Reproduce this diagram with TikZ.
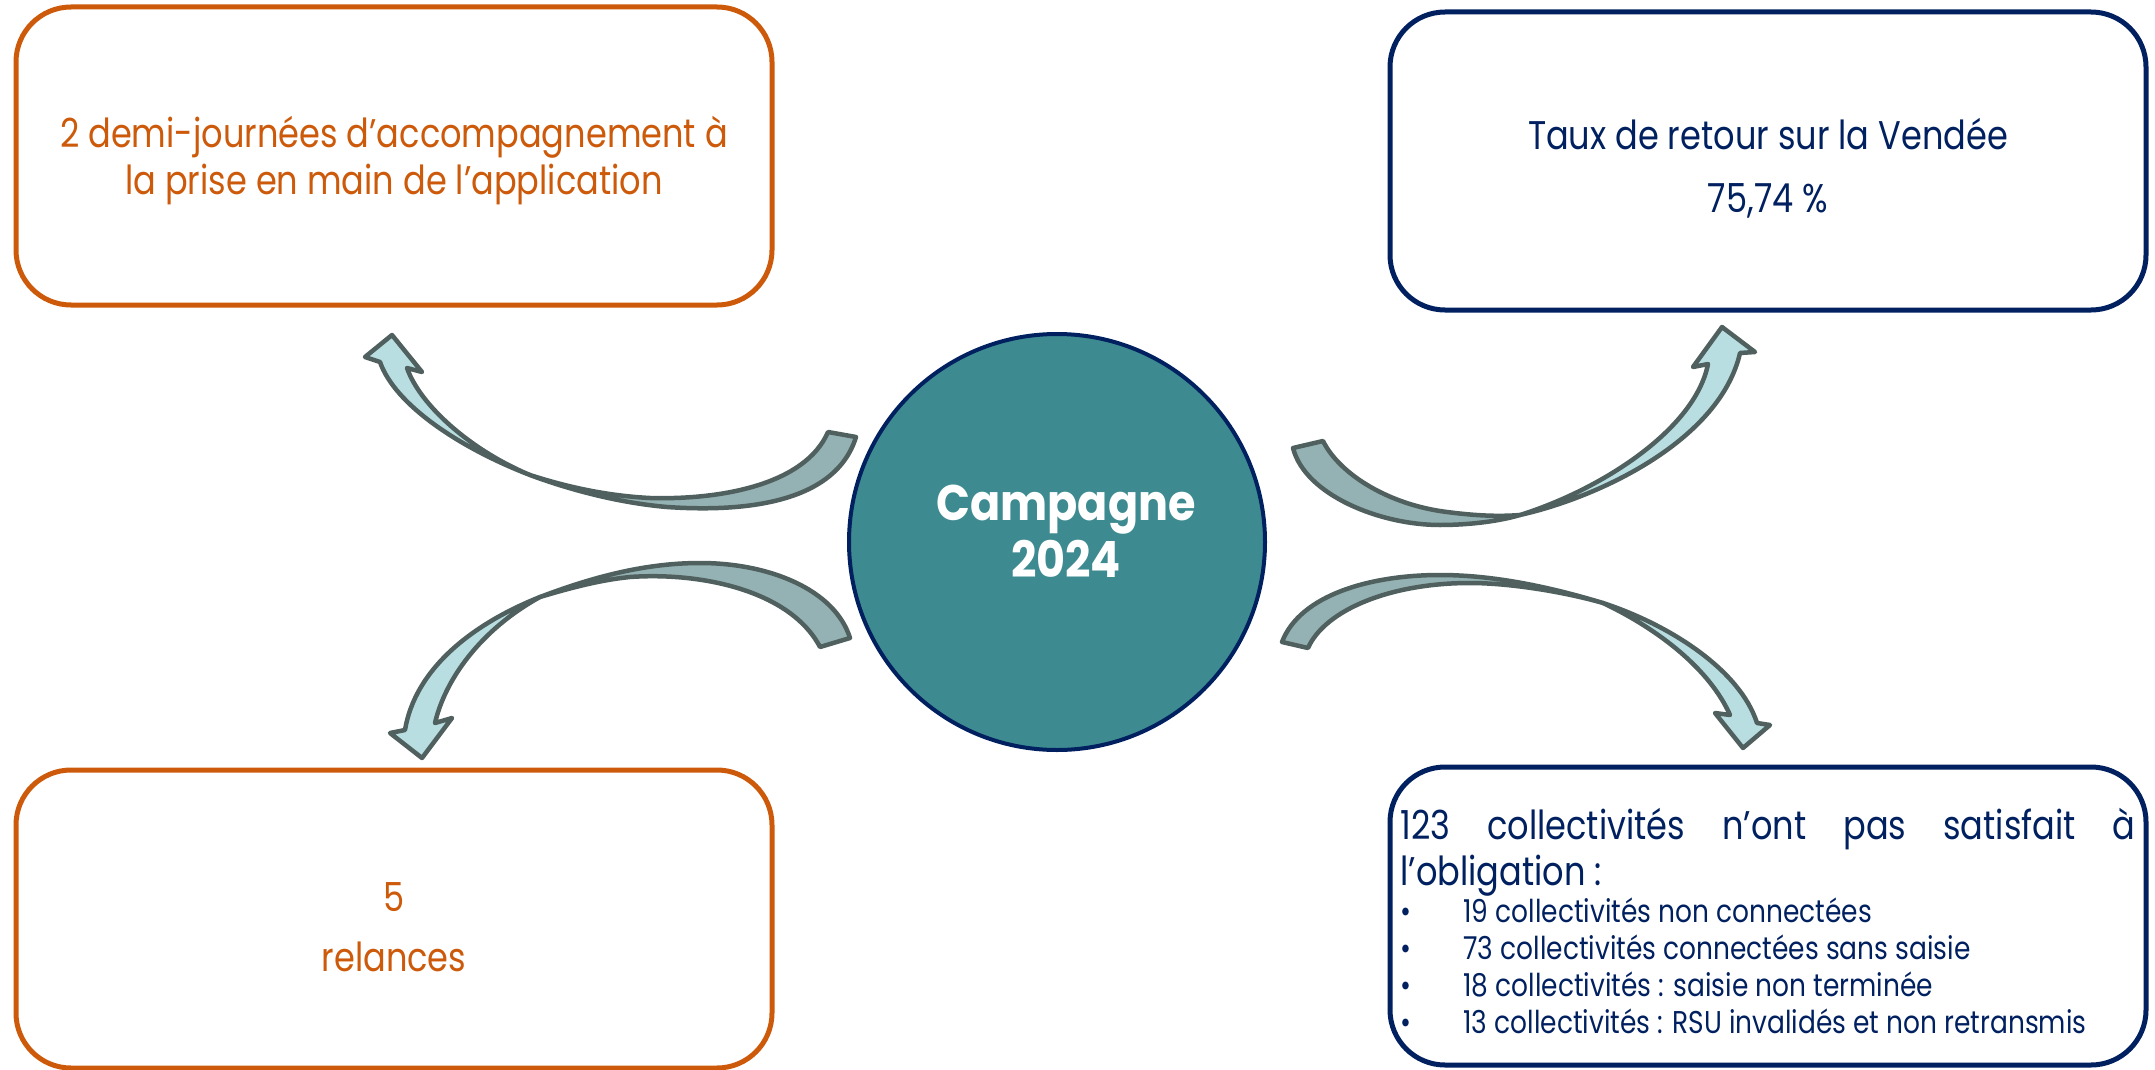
\documentclass[tikz,border=0pt]{standalone}
\usepackage{fontspec}
\setmainfont{Poppins}[FakeStretch=0.84]
\newfontfamily\hubfont{Poppins}[FakeStretch=0.89, UprightFont={* Bold}]
\definecolor{orangec}{HTML}{CC5A0A}
\definecolor{navyc}{HTML}{002060}
\definecolor{tealc}{HTML}{3D8B91}
\definecolor{arrowback}{HTML}{94B2B3}
\definecolor{arrowfront}{HTML}{B8DEE2}
\definecolor{arrowedge}{HTML}{4F605F}
\tikzset{
  infobox/.style={draw, line width=5pt, rounded corners=55pt,
    minimum width=756pt, minimum height=298pt, inner sep=0pt},
  orangebox/.style={infobox, draw=orangec},
  navybox/.style={infobox, draw=navyc},
  bigtext/.style={align=center, font=\fontsize{40}{47}\selectfont},
  hub/.style={circle, draw=navyc, fill=tealc, line width=4pt, minimum size=416pt,
    inner sep=0pt},
  hublabel/.style={text=white, align=center, font=\hubfont\fontsize{50}{57}\selectfont},
  ribbon/.style={draw=arrowedge, line width=4.5pt, line join=round},
  backpart/.style={ribbon, fill=arrowback},
  frontpart/.style={ribbon, fill=arrowfront}
}
\newcommand{\bulletline}[1]{\makebox[63pt][l]{•}#1\par}
\begin{document}
\begin{tikzpicture}[x=1pt, y=-1pt]
\useasboundingbox (0,0) rectangle (2155,1070);

% information boxes
\node[orangebox] (tl) at (394,156) {};
\node[navybox] (tr) at (1768,161) {};
\node[orangebox] (bl) at (394,919) {};
\node[navybox] (br) at (1768,916) {};

% box contents
\node[bigtext, text=orangec] (tltext) at (394,161)
  {2 demi-journées d’accompagnement à\\la prise en main de l’application};
\node[bigtext, text=navyc] (trtext) at (1768,168)
  {Taux de retour sur la Vendée\\[16pt]75,74 \%};
\node[bigtext, text=orangec] (bltext) at (394,927) {5\\[13pt]relances};
\node[text=navyc, text width=735pt, align=justify, inner sep=0pt] (brtext) at (1768,921)
  {\fontsize{40}{46}\selectfont 123 collectivités n’ont pas satisfait à\linebreak l’obligation :\par
   \fontsize{31.5}{37}\selectfont
   \bulletline{19 collectivités non connectées}
   \bulletline{73 collectivités connectées sans saisie}
   \bulletline{18 collectivités : saisie non terminée}
   \bulletline{13 collectivités : RSU invalidés et non retransmis}};

% central hub
\node[hub] (hubc) at (1057,542) {};
\node[hublabel] (hubtext) at (1066,531) {Campagne\\2024};

% curved arrow towards the upper left box
\draw[backpart] (856,437) .. controls (835,505) and (740,512) .. (667,507)
  .. controls (620,503) and (570,490) .. (530,475)
  .. controls (570,488) and (610,496) .. (650,498)
  .. controls (720,500) and (805,485) .. (828,432) -- cycle;
\draw[frontpart] (530,475) .. controls (460,448) and (395,405) .. (380,362)
  -- (365,357) -- (392,335) -- (422,372) -- (407,368)
  .. controls (420,405) and (470,450) .. (530,475) -- cycle;

% curved arrow towards the upper right box
\draw[backpart] (1293,448) .. controls (1305,495) and (1380,525) .. (1440,525)
  .. controls (1470,525) and (1500,521) .. (1520,515)
  .. controls (1495,517) and (1470,515) .. (1447,512)
  .. controls (1390,505) and (1340,475) .. (1323,441) -- cycle;
\draw[frontpart] (1520,515) .. controls (1600,497) and (1720,440) .. (1740,353)
  -- (1755,352) -- (1722,327) -- (1693,367) -- (1708,364)
  .. controls (1695,430) and (1600,490) .. (1520,515) -- cycle;

% curved arrow towards the lower left box
\draw[backpart] (850,638) .. controls (835,590) and (770,563) .. (700,563)
  .. controls (640,563) and (585,580) .. (540,597)
  .. controls (570,588) and (600,580) .. (630,577)
  .. controls (700,572) and (790,590) .. (820,647) -- cycle;
\draw[frontpart] (540,597) .. controls (470,625) and (415,670) .. (405,730)
  -- (390,733) -- (422,758) -- (452,718) -- (435,723)
  .. controls (445,680) and (480,630) .. (540,597) -- cycle;

% curved arrow towards the lower right box
\draw[backpart] (1282,642) .. controls (1300,595) and (1370,575) .. (1440,575)
  .. controls (1500,575) and (1560,590) .. (1603,603)
  .. controls (1565,592) and (1510,583) .. (1470,583)
  .. controls (1390,583) and (1325,610) .. (1308,648) -- cycle;
\draw[frontpart] (1603,603) .. controls (1670,625) and (1740,670) .. (1757,723)
  -- (1770,725) -- (1743,748) -- (1715,713) -- (1730,715)
  .. controls (1710,670) and (1660,630) .. (1603,603) -- cycle;
\end{tikzpicture}
\end{document}
